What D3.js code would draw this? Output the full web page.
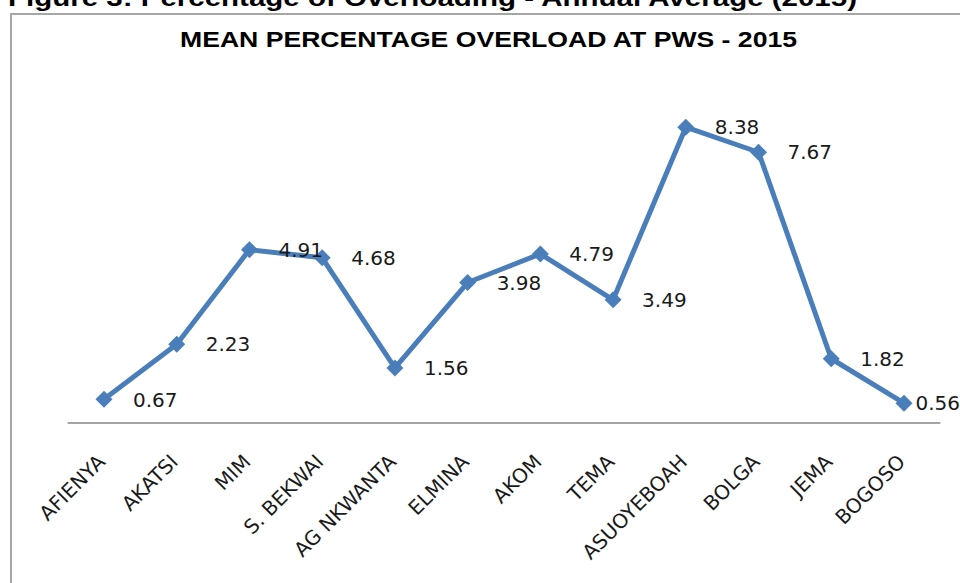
<!doctype html>
<html lang="en">
<head>
<meta charset="UTF-8">
<script src="https://d3js.org/d3.v7.min.js"></script>
<style>
body { margin: 0; background: #fff; }
svg { display: block; }
.cat text { font: 20px "DejaVu Sans", sans-serif; fill: #1a1a1a; }
.val { font: 20px "DejaVu Sans", sans-serif; fill: #1a1a1a; }
</style>
<title></title>
</head>
<body>
<div id="main"></div>
<script>
'use strict';

// stations and their mean overload (%)
var stations = ["AFIENYA", "AKATSI", "MIM", "S. BEKWAI", "AG NKWANTA", "ELMINA",
                "AKOM", "TEMA", "ASUOYEBOAH", "BOLGA", "JEMA", "BOGOSO"];
var overload = [0.67, 2.23, 4.91, 4.68, 1.56, 3.98, 4.79, 3.49, 8.38, 7.67, 1.82, 0.56];

var caption = "Figure 3: Percentage of Overloading - Annual Average (2015)";
var chartTitle = "MEAN PERCENTAGE OVERLOAD AT PWS - 2015";

var width = 960,
    height = 583,
    blue = "#4a7ebb";

var data = stations.map(function(s, i) { return {name: s, value: overload[i]}; });

var x = d3.scalePoint().domain(stations).range([104, 904]),
    y = d3.scaleLinear().domain([0, 10]).range([423, 70]);

var svg = d3.select("#main").append("svg")
    .attr("width", width)
    .attr("height", height);

// caption above the chart (its top is cropped in the source picture)
svg.append("text")
    .attr("x", 8)
    .attr("y", 6)
    .attr("textLength", 849)
    .attr("lengthAdjust", "spacingAndGlyphs")
    .style("font", "bold 24px 'Liberation Sans', Arial, sans-serif")
    .style("fill", "#000")
    .text(caption);

// chart frame
svg.append("rect")
    .attr("x", 11)
    .attr("y", 14)
    .attr("width", width)
    .attr("height", height)
    .attr("fill", "none")
    .attr("stroke", "#a6a6a6")
    .attr("stroke-width", 2);

svg.append("text")
    .attr("x", 180)
    .attr("y", 47)
    .attr("textLength", 617)
    .attr("lengthAdjust", "spacingAndGlyphs")
    .style("font", "bold 22px 'Liberation Sans', Arial, sans-serif")
    .style("fill", "#000")
    .text(chartTitle);

// category axis
var half = x.step() / 2;
svg.append("line")
    .attr("x1", x.range()[0] - half)
    .attr("x2", x.range()[1] + half)
    .attr("y1", y(0))
    .attr("y2", y(0))
    .attr("stroke", "#868686")
    .attr("stroke-width", 1.5);

var axis = svg.append("g")
    .attr("class", "cat")
    .attr("transform", "translate(0," + y(0) + ")")
    .call(d3.axisBottom(x).tickSize(0).tickPadding(0));
axis.select(".domain").remove();
axis.selectAll("text")
    .attr("y", 0)
    .attr("dy", 0)
    .attr("text-anchor", "end")
    .attr("transform", "translate(2,40) rotate(-45)");

// the line
var line = d3.line()
    .x(function(d) { return x(d.name); })
    .y(function(d) { return y(d.value); });

svg.append("path")
    .datum(data)
    .attr("d", line)
    .attr("fill", "none")
    .attr("stroke", blue)
    .attr("stroke-width", 5)
    .attr("stroke-linejoin", "round");

svg.selectAll(".marker")
    .data(data)
  .enter().append("path")
    .attr("class", "marker")
    .attr("d", d3.symbol(d3.symbolSquare, 144))
    .attr("transform", function(d) {
      return "translate(" + x(d.name) + "," + y(d.value) + ") rotate(45)";
    })
    .attr("fill", blue);

// value labels, pushed back inside when they would run off the right edge
svg.selectAll(".val")
    .data(data)
  .enter().append("text")
    .attr("class", "val")
    .attr("y", function(d) { return y(d.value); })
    .attr("dy", "0.36em")
    .text(function(d) { return d.value.toFixed(2); })
    .attr("x", function(d) {
      var w = this.getComputedTextLength();
      return Math.min(x(d.name) + 29, width - w);
    });
</script>
</body>
</html>
